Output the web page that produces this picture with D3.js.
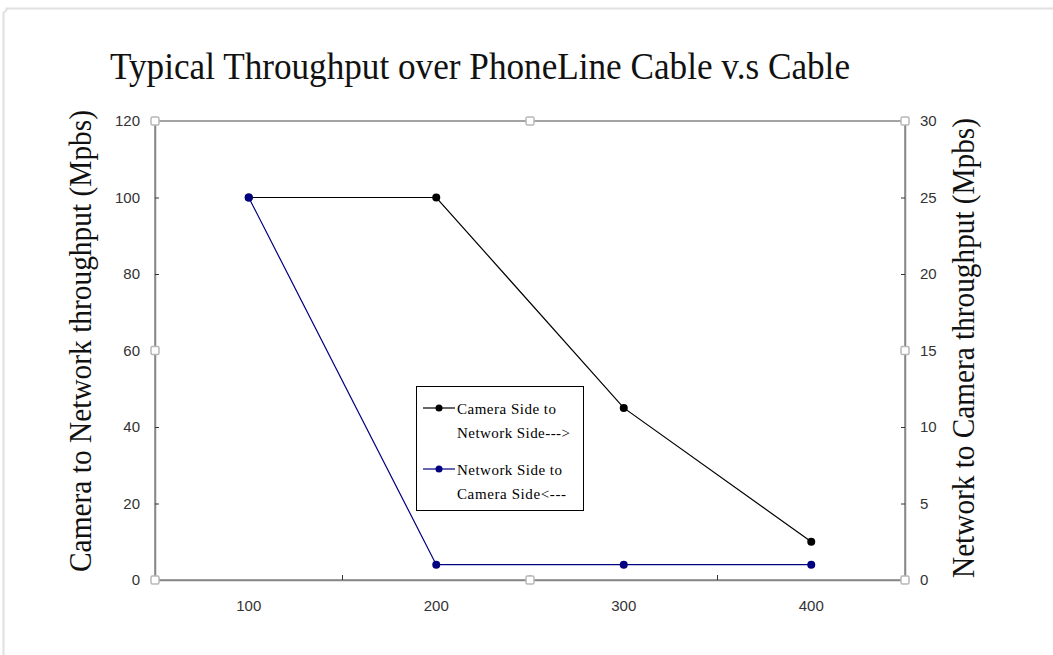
<!DOCTYPE html>
<html><head><meta charset="utf-8">
<script src="https://cdn.jsdelivr.net/npm/d3@7"></script>
<style>body{margin:0;background:#fff;}svg{display:block;}</style>
</head><body>
<script>
const title = "Typical Throughput over PhoneLine Cable v.s Cable";
const categories = ["100","200","300","400"];
const cameraToNetwork = [100, 100, 45, 10];   // left axis
const networkToCamera = [25, 1, 1, 1];        // right axis
const leftTicks = [0,20,40,60,80,100,120];
const rightTicks = [0,5,10,15,20,25,30];
const leftLabel = "Camera to Network throughput (Mpbs)";
const rightLabel = "Network to Camera throughput (Mpbs)";
const legendLabels = [["Camera Side to","Network Side--->"],["Network Side to","Camera Side<---"]];

const W=1053,H=655;
const L=155,R=905,T=121,B=580;
const svg=d3.select("body").append("svg").attr("width",W).attr("height",H);

// outer chart frame
const fr="#e0e0e0";
svg.append("path").attr("d",`M3.5,${H} V13 L6.5,10 V8.5 H${W}`).attr("fill","none").attr("stroke",fr).attr("stroke-width",2);

const x=d3.scaleBand().domain(categories).range([L,R]).padding(0);
const yl=d3.scaleLinear().domain([0,120]).range([B,T]);
const yr=d3.scaleLinear().domain([0,30]).range([B,T]);
const cx=d=>x(d)+x.bandwidth()/2;

// plot frame
const axc="#868686";
svg.append("rect").attr("x",L).attr("y",T).attr("width",R-L).attr("height",B-T).attr("fill","none").attr("stroke",axc).attr("stroke-width",1.5);

// axes
const tickFont='"Liberation Sans Narrow","Liberation Sans",Arial,sans-serif';
const gl=svg.append("g").attr("transform",`translate(${L},0)`).call(d3.axisLeft(yl).tickValues(leftTicks).tickSizeInner(-4).tickSizeOuter(0).tickPadding(15));
const gr=svg.append("g").attr("transform",`translate(${R},0)`).call(d3.axisRight(yr).tickValues(rightTicks).tickSizeInner(-4).tickSizeOuter(0).tickPadding(15));
const gx=svg.append("g").attr("transform",`translate(0,${B})`).call(d3.axisBottom(x).tickSize(0).tickPadding(20));
[gl,gr,gx].forEach(g=>{
  g.select(".domain").attr("stroke",axc).attr("stroke-width",1.5);
  g.selectAll(".tick line").attr("stroke","#333").attr("stroke-width",1);
  g.selectAll("text").attr("font-family",tickFont).attr("font-size",15).attr("fill","#333");
});
// category boundary ticks on x axis
svg.append("g").selectAll("line").data(categories.slice(1).map(c=>x(c))).join("line")
  .attr("x1",d=>d).attr("x2",d=>d).attr("y1",B).attr("y2",B-5).attr("stroke","#333");

// series
const lineL=d3.line().x((d,i)=>cx(categories[i])).y(d=>yl(d));
const lineR=d3.line().x((d,i)=>cx(categories[i])).y(d=>yr(d));
svg.append("path").attr("d",lineL(cameraToNetwork)).attr("fill","none").attr("stroke","#000").attr("stroke-width",1.2);
svg.append("path").attr("d",lineR(networkToCamera)).attr("fill","none").attr("stroke","#000080").attr("stroke-width",1.2);
svg.append("g").selectAll("circle").data(cameraToNetwork).join("circle")
  .attr("cx",(d,i)=>cx(categories[i])).attr("cy",d=>yl(d)).attr("r",4).attr("fill","#000");
svg.append("g").selectAll("circle").data(networkToCamera).join("circle")
  .attr("cx",(d,i)=>cx(categories[i])).attr("cy",d=>yr(d)).attr("r",4).attr("fill","#000080");

// selection handles
const hx=[L,(L+R)/2,R], hy=[T,(T+B)/2,B];
const handles=[];
hx.forEach(a=>hy.forEach(b=>{ if(!(a===(L+R)/2&&b===(T+B)/2)) handles.push([a,b]); }));
svg.append("g").selectAll("rect").data(handles).join("rect")
  .attr("x",d=>d[0]-4).attr("y",d=>d[1]-4).attr("width",8).attr("height",8).attr("rx",1.5)
  .attr("fill","#fff").attr("stroke","#b8b8b8").attr("stroke-width",1.5);

// title
const serif='"Liberation Serif","Times New Roman",serif';
svg.append("text").attr("x",110).attr("y",79).text(title)
  .attr("font-family",serif).attr("font-size",37).attr("fill","#111")
  .attr("textLength",740).attr("lengthAdjust","spacingAndGlyphs");

// axis titles
svg.append("text").attr("transform",`translate(91,341) rotate(-90)`).attr("text-anchor","middle")
  .attr("font-family",serif).attr("font-size",31).attr("fill","#111")
  .attr("textLength",462).attr("lengthAdjust","spacingAndGlyphs").text(leftLabel);
svg.append("text").attr("transform",`translate(974,348) rotate(-90)`).attr("text-anchor","middle")
  .attr("font-family",serif).attr("font-size",31).attr("fill","#111")
  .attr("textLength",460).attr("lengthAdjust","spacingAndGlyphs").text(rightLabel);

// legend
const legendTextWidths=[[99,113],[105,109]];
const lg=svg.append("g");
lg.append("rect").attr("x",416.5).attr("y",386.5).attr("width",167).attr("height",124).attr("fill","#fff").attr("stroke","#000").attr("stroke-width",1);
const legColors=["#000","#000080"], legY=[408,469];
legendLabels.forEach((lab,i)=>{
  const y=legY[i];
  lg.append("line").attr("x1",423).attr("x2",455).attr("y1",y).attr("y2",y).attr("stroke",legColors[i]).attr("stroke-width",1.2);
  lg.append("circle").attr("cx",439).attr("cy",y).attr("r",3.5).attr("fill",legColors[i]);
  lab.forEach((t,j)=>lg.append("text").attr("x",457).attr("y",y+6+j*24).text(t)
    .attr("font-family",serif).attr("font-size",15).attr("fill","#000")
    .attr("textLength",legendTextWidths[i][j]).attr("lengthAdjust","spacing"));
});
</script>
</body></html>
